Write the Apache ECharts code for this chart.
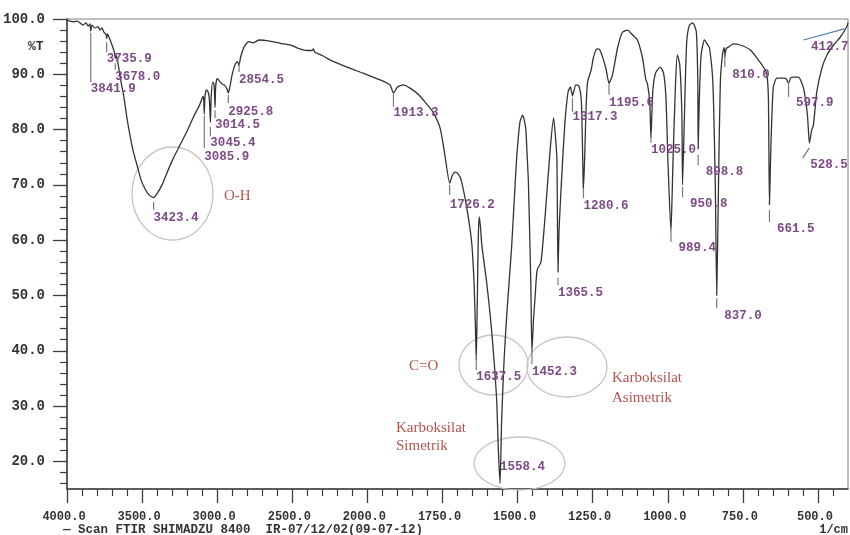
<!DOCTYPE html>
<html><head><meta charset="utf-8">
<script src="https://cdn.jsdelivr.net/npm/echarts@6/dist/echarts.min.js"></script>
<style>html,body{margin:0;padding:0;background:#fff}#c{width:850px;height:535px}</style>
</head><body><div id="c"></div>
<script>
// ---- data ----
const wavenumbers = [4000,3980,3953,3933,3913,3893,3873,3860,3847,3842,3834,3814,3794,3780,3767,3754,3740,3736,3730,3720,3707,3694,3684,3678,3672,3660,3640,3620,3601,3581,3561,3534,3507,3481,3454,3423,3401,3367,3334,3294,3248,3201,3161,3115,3094,3090,3086,3082,3072,3060,3052,3045,3040,3030,3022,3018,3014.5,3010,3000,2985,2970,2950,2935,2926,2915,2900,2880,2865,2855,2845,2820,2790,2760,2720,2650,2580,2515,2450,2400,2370,2360,2350,2300,2249,2136,2029,1958,1925,1913,1900,1880,1858,1831,1805,1782,1758,1742,1726,1718,1708,1698,1688,1669,1653,1645,1640,1637.5,1634,1631,1628,1624,1619,1603,1586,1570,1564,1558.4,1553,1545,1536,1520,1512,1503,1492,1483,1473,1469,1464,1456,1452.3,1447,1442,1435,1422,1408,1391,1380,1373,1369,1365.5,1362,1354,1343,1332,1324,1317.3,1306,1296,1288,1285,1281.5,1280.6,1276,1272,1267,1255,1248,1239,1231,1222,1206,1195.6,1184,1167,1151,1134,1117,1101,1084,1073,1068,1060,1056,1050,1041,1025,1014,1006,999,989.4,983,974,968,960,953,950.8,943,937,928,917,905,900,898.8,895,889,878,867,861,850,842,837,831,825,817,812,810,806,799,781,759,725,693,679,670,665,661.5,657,649,637,615,605,597.9,590,582,565,548,535,528.5,521,515,504,487,470,448,426,404,400];
const transmittance = [99.8,99.6,99.5,99.6,99.3,98.9,99.3,98.7,99.1,97.8,98.9,98.4,98.6,98.0,98.4,97.6,97.2,96.5,97.3,96.7,95.8,94.8,93.9,92.9,93.4,91.9,88.6,85.7,82.1,79.0,76.3,73.6,70.9,69.3,68.2,67.7,68.4,70.0,72.2,74.7,77.2,79.7,82.1,84.6,86.0,85.6,82.8,85.8,87.2,86.8,85.4,81.3,86.0,88.6,88.3,86.8,84.0,87.8,89.2,88.8,88.3,88.0,87.4,86.6,87.8,90.0,91.8,92.3,91.6,93.0,95.0,95.9,95.7,96.2,96.0,95.6,95.3,94.6,94.3,94.3,94.6,94.0,93.4,92.6,91.3,90.2,89.0,88.1,86.6,87.7,88.1,87.5,86.4,84.8,83.2,80.3,75.4,70.3,71.6,72.3,72.0,70.9,65.8,59.7,52.4,43.8,38.3,49.2,60.0,64.2,62.7,59.1,52.4,43.4,31.5,22.1,16.0,27.5,38.3,46.5,58.6,66.4,74.9,81.4,82.6,80.3,76.3,70.5,52.4,39.8,45.6,49.5,54.6,56.1,64.6,76.7,82.1,78.1,74.5,54.2,61.8,70.5,80.8,86.8,87.7,86.1,88.1,87.9,85.4,79.9,70.0,69.3,76.3,83.9,88.6,90.8,92.9,94.4,94.6,93.9,91.1,88.4,89.9,94.8,97.6,98.0,97.1,96.2,92.9,89.0,88.4,85.0,78.5,86.8,90.2,91.3,90.2,85.7,73.6,61.5,73.6,88.6,93.5,91.7,82.6,70.0,85.7,95.8,98.9,99.3,97.7,88.6,76.5,85.4,93.5,96.2,95.3,94.8,88.6,70.5,50.0,70.5,88.6,94.0,94.8,93.2,94.6,94.9,95.5,95.3,94.4,92.2,91.1,89.9,85.7,66.4,76.3,87.5,89.3,89.3,89.1,88.4,89.4,89.5,89.5,87.5,82.6,77.6,79.9,80.8,86.8,91.1,93.5,95.3,96.7,98.6,99.3];

const peakLabels = ['3841.9','3735.9','3678.0','3423.4','3085.9','3045.4','3014.5','2925.8','2854.5','1913.3','1726.2','1637.5','1558.4','1452.3','1365.5','1317.3','1280.6','1195.6','1025.0','989.4','950.8','898.8','837.0','810.0','661.5','597.9','528.5','412.7'];
const peakWavenumbers = [3841.9,3735.9,3678.0,3423.4,3085.9,3045.4,3014.5,2925.8,2854.5,1913.3,1726.2,1637.5,1558.4,1452.3,1365.5,1317.3,1280.6,1195.6,1056,989.4,950.8,898.8,837.0,810.0,661.5,597.9,528.5,412.7];
const tickFootWavenumbers = [3841.9,3735.9,3678.0,3423.4,3085.9,3045.4,3014.5,2925.8,2854.5,1913.3,1726.2,1637.5,1558.4,1452.3,1365.5,1317.3,1280.6,1195.6,1056,989.4,950.8,898.8,837.0,810.0,661.5,597.9,551,548];
const tickTopT  = [97.5,95.8,92.0,66.9,82.6,80.5,83.5,86.3,92.0,86.4,70.0,38.7,19.5,39.8,53.2,85.7,69.4,88.4,79.0,61.5,69.6,75.4,49.5,93.9,65.5,88.6,76.7,98.2];
const tickFootT = [88.6,94.0,90.8,65.5,76.7,78.8,82.1,84.8,90.4,84.1,68.2,36.5,19.5,37.6,51.9,83.2,67.6,86.3,77.6,59.7,67.8,73.6,47.7,91.3,63.3,85.9,74.9,96.2];
const labelT    = [87.3,92.8,89.5,64.0,75.0,77.6,80.8,83.2,89.0,83.0,66.4,35.3,19.0,36.2,50.5,82.3,66.2,84.8,76.3,58.6,66.5,72.3,46.3,89.9,62.0,84.8,73.6,94.9];

const xMajorTickLabels = [4000,3500,3000,2500,2000,1750,1500,1250,1000,750,500];
const yMajorTickLabels = [20,30,40,50,60,70,80,90,100];
const yMinorTicks = [16,18,22,24,26,28,32,34,36,38,42,44,46,48,52,54,56,58,62,64,66,68,72,74,76,78,82,84,86,88,92,94,96,98];

// wavenumber axis: 4000-2000 at half the scale of 2000-400
function toAxis(wn){ return wn >= 2000 ? 4000 - wn : 2000 + 2 * (2000 - wn); }
function fromAxis(u){ return u <= 2000 ? 4000 - u : 2000 - (u - 2000) / 2; }

const xMinorTicks = [];
for (let w = 3900; w > 2000; w -= 100) if (w % 500) xMinorTicks.push(toAxis(w));
for (let w = 1950; w > 400; w -= 50) if (w % 250) xMinorTicks.push(toAxis(w));

const MONO = '"Liberation Mono", "DejaVu Sans Mono", monospace';
const SERIF = '"Liberation Serif", "DejaVu Serif", serif';
const axisColor = '#3c3c3c';

const chart = echarts.init(document.getElementById('c'), null, {renderer: 'canvas'});
chart.setOption({
  animation: false,
  backgroundColor: '#fff',
  grid: {left: 67, right: 2, top: 19, bottom: 46, show: true, borderColor: '#808080', borderWidth: 1, outerBoundsMode: 'none', containLabel: false},
  xAxis: [{
    type: 'value', min: 0, max: 5200, position: 'bottom',
    axisLine: {show: true, onZero: false, lineStyle: {color: axisColor, width: 1.5}},
    axisTick: {show: true, customValues: xMajorTickLabels.map(toAxis), length: 14, lineStyle: {color: axisColor, width: 1.3}},
    axisLabel: {customValues: xMajorTickLabels.map(toAxis), formatter: v => fromAxis(v).toFixed(1), margin: 22,
      fontFamily: MONO, fontSize: 12, fontWeight: 'bold', color: '#333', padding: [0, 6, 0, 0]},
    splitLine: {show: false}
  }, {
    type: 'value', min: 0, max: 5200, position: 'bottom',
    axisLine: {show: false, onZero: false},
    axisTick: {show: true, customValues: xMinorTicks, length: 7, lineStyle: {color: axisColor, width: 1.2}},
    axisLabel: {show: false}, splitLine: {show: false}
  }],
  yAxis: [{
    type: 'value', min: 15, max: 100, position: 'left',
    axisLine: {show: true, onZero: false, lineStyle: {color: axisColor, width: 1.5}},
    axisTick: {show: true, customValues: yMajorTickLabels, length: 14, lineStyle: {color: axisColor, width: 1.3}},
    axisLabel: {customValues: yMajorTickLabels, formatter: v => v.toFixed(1), margin: 22,
      fontFamily: MONO, fontSize: 14, fontWeight: 'bold', color: '#333'},
    splitLine: {show: false}
  }, {
    type: 'value', min: 15, max: 100, position: 'left',
    axisLine: {show: false, onZero: false},
    axisTick: {show: true, customValues: yMinorTicks, length: 7, lineStyle: {color: axisColor, width: 1.2}},
    axisLabel: {show: false}, splitLine: {show: false}
  }],
  series: [{
    type: 'line', name: 'FTIR', xAxisIndex: 0, yAxisIndex: 0,
    data: wavenumbers.map((w, i) => [toAxis(w), transmittance[i]]),
    showSymbol: false, smooth: 0.2, silent: true,
    lineStyle: {color: '#333', width: 1.3}, z: 2
  }, {
    type: 'custom', xAxisIndex: 0, yAxisIndex: 0, silent: true, z: 3,
    data: peakLabels.map((t, i) => [toAxis(peakWavenumbers[i]), tickTopT[i], toAxis(tickFootWavenumbers[i]), tickFootT[i], labelT[i], i]),
    renderItem: function (params, api) {
      const i = api.value(5);
      const top = api.coord([api.value(0), api.value(1)]);
      const foot = api.coord([api.value(2), api.value(3)]);
      const lab = api.coord([api.value(2), api.value(4)]);
      const children = [];
      if (Math.abs(top[1] - foot[1]) > 0.5) {
        children.push({type: 'line', shape: {x1: top[0], y1: top[1], x2: foot[0], y2: foot[1]},
          style: {stroke: i === 27 ? '#4f7fb3' : '#7f7387', lineWidth: 1.2}});
      }
      children.push({type: 'text', x: lab[0], y: lab[1],
        style: {text: peakLabels[i].padStart(6, ' '), fill: '#7d4a86', font: 'bold 12.5px ' + MONO, align: 'left', verticalAlign: 'middle'}});
      return {type: 'group', children: children};
    }
  }],
  graphic: [
    {type: 'ellipse', shape: {cx: 172.5, cy: 193.5, rx: 40.5, ry: 46.5}, style: {fill: 'none', stroke: '#c9c3c3', lineWidth: 1.3}, z: 1},
    {type: 'ellipse', shape: {cx: 493.5, cy: 365, rx: 34.5, ry: 30}, style: {fill: 'none', stroke: '#c9c3c3', lineWidth: 1.3}, z: 1},
    {type: 'ellipse', shape: {cx: 567, cy: 367, rx: 40, ry: 30}, style: {fill: 'none', stroke: '#c9c3c3', lineWidth: 1.3}, z: 1},
    {type: 'ellipse', shape: {cx: 519.5, cy: 463.5, rx: 45.5, ry: 26.5}, style: {fill: 'none', stroke: '#c9c3c3', lineWidth: 1.3}, z: 1},
    {type: 'text', left: 224, top: 189, style: {text: 'O-H', fill: '#b35550', font: '15px ' + SERIF}},
    {type: 'text', left: 409, top: 359, style: {text: 'C=O', fill: '#b35550', font: '15px ' + SERIF}},
    {type: 'text', left: 396, top: 421, style: {text: 'Karboksilat', fill: '#b35550', font: '15px ' + SERIF}},
    {type: 'text', left: 396, top: 439, style: {text: 'Simetrik', fill: '#b35550', font: '15px ' + SERIF}},
    {type: 'text', left: 612, top: 371, style: {text: 'Karboksilat', fill: '#b35550', font: '15px ' + SERIF}},
    {type: 'text', left: 612, top: 391, style: {text: 'Asimetrik', fill: '#b35550', font: '15px ' + SERIF}},
    {type: 'text', left: 28, top: 40, style: {text: '%T', fill: '#333', font: 'bold 13px ' + MONO}},
    {type: 'text', left: 63, top: 523, style: {text: '\u2014 Scan FTIR SHIMADZU 8400  IR-07/12/02(09-07-12)', fill: '#333', font: 'bold 12.5px ' + MONO}},
    {type: 'text', right: 2, top: 524, style: {text: '1/cm', fill: '#333', font: 'bold 12px ' + MONO}}
  ]
});
</script>
</body></html>
